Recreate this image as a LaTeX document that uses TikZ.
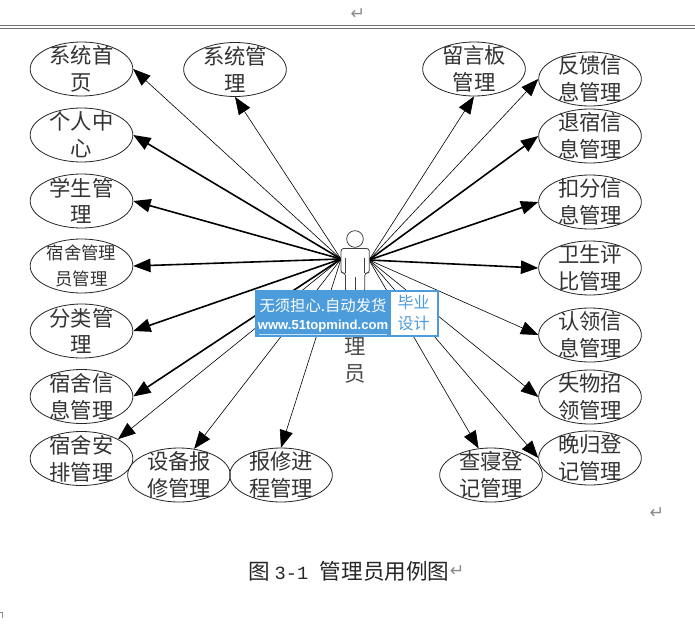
\documentclass[tikz,border=0pt]{standalone}
\usepackage{fontspec}
\setmainfont{Noto Sans CJK SC}
\newfontfamily\monofont{Liberation Mono}
\newfontfamily\urlfont{Liberation Sans}
\newfontfamily\markfont{DejaVu Sans}
\usetikzlibrary{shapes.geometric,arrows.meta}

\definecolor{bannerblue}{RGB}{76,156,219}

\tikzset{
  usecase/.style={draw=black!85,ellipse,line width=0.6pt,inner sep=0pt,minimum width=77pt,minimum height=40.5pt},
  casetext/.style={align=center,inner sep=0pt,font=\fontsize{16pt}{20pt}\selectfont,text=black!80},
  smalltext/.style={casetext,font=\fontsize{13pt}{20pt}\selectfont},
  thinarrow/.style={-{Triangle[length=13pt,width=10pt]},line width=0.45pt},
  thickarrow/.style={-{Triangle[length=13pt,width=10pt]},line width=1.2pt},
  returnmark/.style={text=black!45,inner sep=0pt,font=\markfont\fontsize{13pt}{13pt}\selectfont},
}

\begin{document}
\begin{tikzpicture}[x=0.75pt,y=-0.75pt]
\useasboundingbox (0,0) rectangle (695,628);
\fill[white] (0,0) rectangle (695,628);

\node[returnmark] (topmark) at (358,14) {↵};
\draw[black!55,line width=1.1pt] (0,25.7) -- (695,25.7);
\draw[black!55,line width=0.7pt] (0,28.7) -- (695,28.7);

\node[usecase,label={[casetext]center:系统首\\页}] (home) at (81.5,69) {};
\node[usecase,label={[casetext]center:系统管\\理}] (sysmgr) at (235,69.5) {};
\node[usecase,label={[casetext]center:留言板\\管理}] (board) at (474,69) {};
\node[usecase,label={[casetext]center:反馈信\\息管理}] (feedback) at (590,79) {};
\node[usecase,label={[casetext]center:退宿信\\息管理}] (checkout) at (590,136) {};
\node[usecase,label={[casetext]center:扣分信\\息管理}] (penalty) at (590,202) {};
\node[usecase,label={[casetext]center:卫生评\\比管理}] (hygiene) at (590,268) {};
\node[usecase,label={[casetext]center:认领信\\息管理}] (claim) at (590,335) {};
\node[usecase,label={[casetext]center:失物招\\领管理}] (lost) at (590,397) {};
\node[usecase,label={[casetext]center:晚归登\\记管理}] (late) at (590,458) {};

\node[usecase,label={[casetext]center:个人中\\心}] (profile) at (81.5,135) {};
\node[usecase,label={[casetext]center:学生管\\理}] (student) at (81.5,201) {};
\node[usecase,label={[smalltext]center:宿舍管理\\员管理}] (warden) at (81.5,266) {};
\node[usecase,label={[casetext]center:分类管\\理}] (category) at (81.5,331) {};
\node[usecase,label={[casetext]center:宿舍信\\息管理}] (dorminfo) at (81.5,396.5) {};
\node[usecase,label={[casetext]center:宿舍安\\排管理}] (assign) at (81.5,458.5) {};
\node[usecase,label={[casetext]center:设备报\\修管理}] (repair) at (179,475) {};
\node[usecase,label={[casetext]center:报修进\\程管理}] (progress) at (281,475) {};
\node[usecase,label={[casetext]center:查寝登\\记管理}] (inspect) at (491,475) {};

\coordinate (hubleft) at (341,259);
\coordinate (hubright) at (369,260);

\draw[thinarrow] (hubleft) -- (home.east);
\draw[thinarrow] (hubleft) -- (sysmgr.south);
\draw[thickarrow] (hubleft) -- (profile.east);
\draw[thickarrow] (hubleft) -- (student.east);
\draw[thickarrow] (hubleft) -- (warden.east);
\draw[thickarrow] (hubleft) -- (category.east);
\draw[thickarrow] (hubleft) -- (dorminfo.east);
\draw[thinarrow] (hubleft) -- (assign.north east);
\draw[thinarrow] (hubleft) -- (repair.60);
\draw[thinarrow] (hubleft) -- (progress.north);

\draw[thinarrow] (hubright) -- (board.south);
\draw[thinarrow] (hubright) -- (feedback.west);
\draw[thickarrow] (hubright) -- (checkout.west);
\draw[thickarrow] (hubright) -- (penalty.west);
\draw[thickarrow] (hubright) -- (hygiene.west);
\draw[thinarrow] (hubright) -- (claim.west);
\draw[thinarrow] (hubright) -- (lost.west);
\draw[thinarrow] (hubright) -- (late.west);
\draw[thinarrow] (hubright) -- (inspect.115);

\draw[draw=black!75,line width=0.6pt,fill=white,rounded corners=2pt] (345.5,292) -- (345.5,273) -- (341,273) -- (341,248.5) -- (369.3,248.5) -- (369.3,273) -- (364.7,273) -- (364.7,292) -- cycle;
\draw[black!75,line width=0.6pt] (345.5,273) -- (345.5,258) (364.7,273) -- (364.7,258) (355,277) -- (355,292);
\node[draw=black!75,circle,line width=0.6pt,fill=white,inner sep=0pt,minimum size=12.5pt] (head) at (355,239) {};
\node[casetext,text=black!70] (actorname) at (355,360.5) {理\\员};

\fill[bannerblue] (255,290) rectangle (439,337);
\fill[white] (391,292) rectangle (437,335);
\draw[white!70!bannerblue,line width=0.5pt] (259,334) -- (387,334);
\node[inner sep=0pt,text=white,font=\fontsize{11.5pt}{14pt}\selectfont] (bannertop) at (323,306) {无须担心.自动发货};
\node[inner sep=0pt,text=white,font=\urlfont\bfseries\fontsize{9.8pt}{12pt}\selectfont] (bannerurl) at (323,326.5) {www.51topmind.com};
\node[inner sep=0pt,align=center,text=bannerblue,font=\fontsize{12pt}{15.5pt}\selectfont] (bannerbox) at (413.5,313) {毕业\\设计};

\node[returnmark] (endmark) at (657,513) {↵};
\node[inner sep=0pt,anchor=west,text=black!85,font=\fontsize{16.2pt}{20pt}\selectfont] (caption) at (248,571) {图 {\monofont\fontsize{14pt}{20pt}\selectfont 3-1}\hspace{5pt} 管理员用例图};
\node[returnmark,anchor=west] (captionmark) at (caption.east) {↵};
\draw[black!45,line width=0.5pt] (0,612) -- (2,612) -- (2,618);
\end{tikzpicture}
\end{document}
